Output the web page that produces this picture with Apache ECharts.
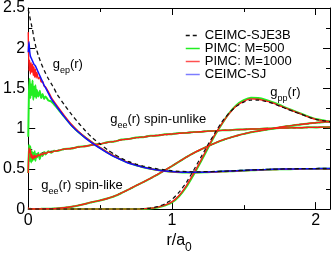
<!DOCTYPE html>
<html><head><meta charset="utf-8">
<script src="https://cdn.jsdelivr.net/npm/echarts@6/dist/echarts.min.js"></script>
<style>html,body{margin:0;padding:0;background:#fff}#c{width:333px;height:259px}</style>
</head><body><div id="c"></div>
<script>
// r / a0 grid
const r = [0,0.005,0.01,0.015,0.02,0.025,0.03,0.035,0.04,0.045,0.05,0.055,0.06,
  0.07,0.08,0.09,0.1,0.11,0.12,0.14,0.16,0.18,0.2,
  0.25,0.3,0.35,0.4,0.45,0.5,0.55,0.6,0.65,0.7,0.75,0.8,0.85,0.9,0.95,
  1.0,1.05,1.1,1.15,1.2,1.25,1.3,1.35,1.4,1.45,1.5,1.55,1.6,1.65,1.7,1.75,1.8,1.85,1.9,1.95,2.0,2.05,2.1];

// g_ep(r)
const gepSJE3B = [2.48,2.44,2.40,2.35,2.31,2.27,2.23,2.17,2.12,2.08,2.04,2.0,1.97,
  1.91,1.86,1.81,1.77,1.73,1.69,1.62,1.56,1.50,1.43,
  1.30,1.18,1.07,0.97,0.88,0.81,0.74,0.68,0.63,0.59,0.56,0.535,0.515,0.50,0.487,
  0.477,0.47,0.466,0.464,0.464,0.466,0.468,0.471,0.474,0.478,0.482,0.486,0.49,0.493,0.496,0.498,0.50,0.501,0.502,0.503,0.504,0.505,0.505];
const gepSJ = [1.95,2.08,1.96,1.90,1.88,1.86,1.84,1.82,1.80,1.79,1.78,1.76,1.74,
  1.70,1.66,1.62,1.58,1.54,1.51,1.44,1.37,1.32,1.27,
  1.15,1.04,0.955,0.88,0.815,0.755,0.70,0.65,0.61,0.57,0.545,0.52,0.50,0.485,0.474,
  0.466,0.461,0.458,0.457,0.458,0.461,0.465,0.469,0.473,0.477,0.481,0.485,0.489,0.492,0.495,0.497,0.499,0.50,0.501,0.502,0.503,0.504,0.504];
const gepM1000 = [2.2,1.72,1.85,1.68,1.82,1.70,1.80,1.66,1.77,1.64,1.74,1.63,1.70,
  1.62,1.64,1.58,1.59,1.53,1.52,1.46,1.39,1.335,1.285,
  1.165,1.055,0.965,0.89,0.825,0.765,0.71,0.66,0.615,0.577,0.548,0.522,0.502,0.486,0.474,
  0.465,0.459,0.456,0.455,0.456,0.459,0.462,0.466,0.47,0.474,0.478,0.482,0.486,0.489,0.492,0.494,0.496,0.497,0.499,0.50,0.50,0.501,0.502];
const gepM500 = [0.9,1.45,1.62,1.38,1.55,1.42,1.60,1.36,1.52,1.40,1.54,1.38,1.48,
  1.40,1.47,1.38,1.43,1.37,1.40,1.35,1.34,1.30,1.26,
  1.15,1.045,0.955,0.885,0.82,0.76,0.705,0.655,0.612,0.575,0.546,0.521,0.501,0.485,0.474,
  0.465,0.459,0.456,0.455,0.456,0.459,0.462,0.466,0.47,0.474,0.478,0.482,0.486,0.489,0.492,0.494,0.496,0.497,0.499,0.50,0.50,0.501,0.502];

// g_ee(r) spin-unlike
const ueSJE3B = [0.66,0.66,0.66,0.665,0.665,0.67,0.67,0.672,0.675,0.677,0.68,0.682,0.684,
  0.688,0.692,0.696,0.70,0.703,0.706,0.712,0.718,0.723,0.728,
  0.742,0.756,0.77,0.784,0.798,0.812,0.828,0.843,0.86,0.873,0.886,0.897,0.908,0.917,0.926,
  0.934,0.942,0.949,0.956,0.962,0.968,0.973,0.978,0.983,0.987,0.991,0.995,0.998,1.001,1.004,1.007,1.009,1.011,1.013,1.015,1.017,1.018,1.02];
const ueM1000 = [0.45,0.76,0.70,0.74,0.64,0.68,0.62,0.66,0.63,0.67,0.64,0.66,0.65,
  0.68,0.66,0.69,0.675,0.70,0.69,0.71,0.705,0.72,0.725,
  0.745,0.754,0.772,0.782,0.80,0.81,0.83,0.842,0.862,0.871,0.888,0.895,0.91,0.915,0.928,
  0.933,0.943,0.948,0.957,0.961,0.969,0.972,0.979,0.982,0.988,0.99,0.996,0.997,1.002,1.003,1.008,1.008,1.012,1.012,1.016,1.016,1.019,1.019];
const ueM500 = [0.45,0.8,0.6,0.78,0.58,0.72,0.60,0.70,0.62,0.72,0.60,0.68,0.64,
  0.70,0.62,0.69,0.66,0.71,0.68,0.72,0.70,0.725,0.722,
  0.748,0.752,0.774,0.78,0.802,0.808,0.832,0.84,0.864,0.87,0.89,0.894,0.912,0.914,0.93,
  0.932,0.945,0.947,0.958,0.96,0.97,0.971,0.98,0.981,0.989,0.989,0.997,0.996,1.003,1.002,1.009,1.007,1.013,1.011,1.017,1.015,1.02,1.018];

// g_ee(r) spin-like
const lkSJE3B = [0,0,0,0,0,0,0,0,0.001,0.001,0.001,0.001,0.001,
  0.001,0.002,0.002,0.002,0.003,0.003,0.004,0.005,0.006,0.008,
  0.016,0.028,0.045,0.066,0.088,0.108,0.13,0.16,0.2,0.245,0.29,0.335,0.38,0.43,0.48,
  0.535,0.59,0.645,0.695,0.74,0.78,0.82,0.855,0.885,0.91,0.935,0.955,0.97,0.985,1.0,1.015,1.03,1.042,1.053,1.063,1.072,1.08,1.088];
const lkM1000 = [0.02,0,0.003,0,0.002,0.001,0.002,0.001,0.002,0.001,0.002,0.002,0.002,
  0.002,0.003,0.003,0.003,0.004,0.004,0.005,0.006,0.007,0.009,
  0.017,0.029,0.046,0.067,0.09,0.109,0.132,0.161,0.202,0.246,0.292,0.336,0.382,0.431,0.482,
  0.536,0.592,0.646,0.697,0.741,0.782,0.821,0.857,0.886,0.912,0.936,0.957,0.971,0.987,1.001,1.017,1.031,1.044,1.054,1.065,1.073,1.082,1.089];
const lkM500 = [0.01,0.002,0,0.003,0.001,0.002,0.001,0.002,0.001,0.002,0.002,0.001,0.002,
  0.002,0.002,0.003,0.003,0.003,0.004,0.005,0.005,0.007,0.008,
  0.016,0.028,0.045,0.066,0.089,0.108,0.131,0.16,0.201,0.245,0.291,0.335,0.381,0.43,0.481,
  0.535,0.591,0.645,0.696,0.74,0.781,0.82,0.856,0.885,0.911,0.935,0.956,0.97,0.986,1.0,1.016,1.03,1.043,1.053,1.064,1.072,1.081,1.088];

// g_pp(r)
const ppSJE3B = [0,0,0,0,0,0,0,0,0,0,0,0,0,
  0,0,0,0,0,0,0,0,0,0,
  0,0,0,0,0,0,0,0,0,0,0,0.005,0.013,0.03,0.065,
  0.12,0.21,0.33,0.48,0.64,0.8,0.95,1.09,1.2,1.28,1.33,1.355,1.355,1.34,1.315,1.28,1.245,1.21,1.18,1.145,1.115,1.10,1.085];
const ppM1000 = [0,0,0,0,0,0,0,0,0,0,0,0,0,
  0,0,0,0,0,0,0,0,0,0,
  0,0,0,0,0,0,0,0,0,0,0,0.003,0.01,0.025,0.05,
  0.09,0.17,0.29,0.44,0.6,0.77,0.93,1.07,1.19,1.285,1.34,1.37,1.365,1.345,1.32,1.285,1.25,1.215,1.18,1.145,1.115,1.10,1.085];
const ppM500 = [0,0,0,0,0,0,0,0,0,0,0,0,0,
  0,0,0,0,0,0,0,0,0,0,
  0,0,0,0,0,0,0,0,0,0,0,0.002,0.008,0.02,0.044,
  0.082,0.16,0.275,0.425,0.585,0.755,0.92,1.065,1.195,1.295,1.355,1.385,1.38,1.36,1.33,1.295,1.255,1.22,1.185,1.15,1.12,1.104,1.088];

const names = ['CEIMC-SJE3B','PIMC: M=500','PIMC: M=1000','CEIMC-SJ'];

const FONT = "'Liberation Sans', Arial, Helvetica, sans-serif";
const zip = v => r.map((x, i) => [x, v[i]]);
function line(name, vals, color, dashed, z, w) {
  return {
    type: 'line', name, data: zip(vals), showSymbol: false, symbol: 'none',
    smooth: 0.2, z, animation: false,
    lineStyle: { color, width: w, type: dashed ? [4, 3] : 'solid' },
    itemStyle: { color }, emphasis: { disabled: true }
  };
}
const GREEN = '#22ee22', RED = '#ff1a1a', BLUE = '#1010ff', BLACK = '#111';
const series = [
  line(names[1], gepM500, GREEN, false, 2, 2),
  line(names[1], ueM500, GREEN, false, 2, 2),
  line(names[1], lkM500, GREEN, false, 2, 2),
  line(names[1], ppM500, GREEN, false, 2, 2),
  line(names[2], gepM1000, RED, false, 3, 1.4),
  line(names[2], ueM1000, RED, false, 3, 1.4),
  line(names[2], lkM1000, RED, false, 3, 1.4),
  line(names[2], ppM1000, RED, false, 3, 1.4),
  line(names[3], gepSJ, BLUE, false, 4, 1.5),
  line(names[0], gepSJE3B, BLACK, true, 5, 1.3),
  line(names[0], ueSJE3B, BLACK, true, 1, 1.3),
  line(names[0], lkSJE3B, BLACK, true, 1, 1.3),
  line(names[0], ppSJE3B, BLACK, true, 5, 1.2)
];

const lab = { fontFamily: FONT, fontSize: 16, color: '#000' };
function xAx(pos, interval, len, labels, lineOn) {
  return {
    type: 'value', min: 0, max: 2.1, interval, position: pos,
    axisLine: { show: lineOn, onZero: false, lineStyle: { color: '#000', width: 1 } },
    axisTick: { show: true, inside: true, length: len, lineStyle: { color: '#000' } },
    axisLabel: labels ? Object.assign({ margin: 3, formatter: v => (Math.abs(v - Math.round(v)) < 1e-9 ? String(Math.round(v)) : '') }, lab) : { show: false },
    splitLine: { show: false }
  };
}
function yAx(pos, labels) {
  return {
    type: 'value', min: 0, max: 2.5, interval: 0.5, position: pos,
    axisLine: { show: true, onZero: false, lineStyle: { color: '#000', width: 1 } },
    axisTick: { show: true, inside: true, length: 7, lineStyle: { color: '#000' } },
    minorTick: { show: true, splitNumber: 2, length: 4, lineStyle: { color: '#000' } },
    axisLabel: labels ? Object.assign({ margin: 3 }, lab) : { show: false },
    splitLine: { show: false }
  };
}
const xa0 = xAx('bottom', 0.5, 4, true, true);
xa0.name = '{a|r/a}{b|0}';
xa0.nameLocation = 'middle';
xa0.nameGap = 23;
xa0.nameTextStyle = { rich: {
  a: { fontFamily: FONT, fontSize: 16, lineHeight: 16, verticalAlign: 'top', color: '#000' },
  b: { fontFamily: FONT, fontSize: 12, lineHeight: 12, padding: [9, 0, 0, 0], verticalAlign: 'top', color: '#000' } } };

const chart = echarts.init(document.getElementById('c'), null, { renderer: 'canvas' });
chart.setOption({
  animation: false,
  backgroundColor: '#fff',
  grid: { left: 27, right: 2, top: 7, bottom: 40, containLabel: false },
  xAxis: [xa0, xAx('bottom', 1, 7, false, false), xAx('top', 0.5, 4, false, true), xAx('top', 1, 7, false, false)],
  yAxis: [yAx('left', true), yAx('right', false)],
  legend: {
    orient: 'vertical', left: 180, top: 24, itemWidth: 14, itemHeight: 12.7, itemGap: 0,
    selectedMode: false,
    itemStyle: { opacity: 0 },
    textStyle: { fontFamily: FONT, fontSize: 13, lineHeight: 12, color: '#000' },
    data: [
      { name: names[0], lineStyle: { width: 1.3, type: [4, 3], color: '#111' } },
      { name: names[1], lineStyle: { width: 1.5 } },
      { name: names[2], lineStyle: { color: '#ff5050', width: 1.5 } },
      { name: names[3], lineStyle: { color: '#7c7cff', width: 1.5 } }
    ]
  },
  series
});

const base = { fontFamily: FONT, fontSize: 13, lineHeight: 14, verticalAlign: 'top', color: '#000' };
const sub = { fontFamily: FONT, fontSize: 9, lineHeight: 9, padding: [8, 0, 0, 0], verticalAlign: 'top', color: '#000' };
const notes = [
  { at: [0.17, 1.88], t: '{a|g}{b|ep}{a|(r)}' },
  { at: [1.685, 1.53], t: '{a|g}{b|pp}{a|(r)}' },
  { at: [0.57, 1.19], t: '{a|g}{b|ee}{a|(r) spin-unlike}' },
  { at: [0.09, 0.38], t: '{a|g}{b|ee}{a|(r) spin-like}' }
];
chart.setOption({
  graphic: notes.map(n => {
    const p = chart.convertToPixel({ xAxisIndex: 0, yAxisIndex: 0 }, n.at);
    return { type: 'text', x: p[0], y: p[1], z: 10,
      style: { text: n.t, rich: { a: base, b: sub }, textVerticalAlign: 'top' } };
  })
});
</script></body></html>
